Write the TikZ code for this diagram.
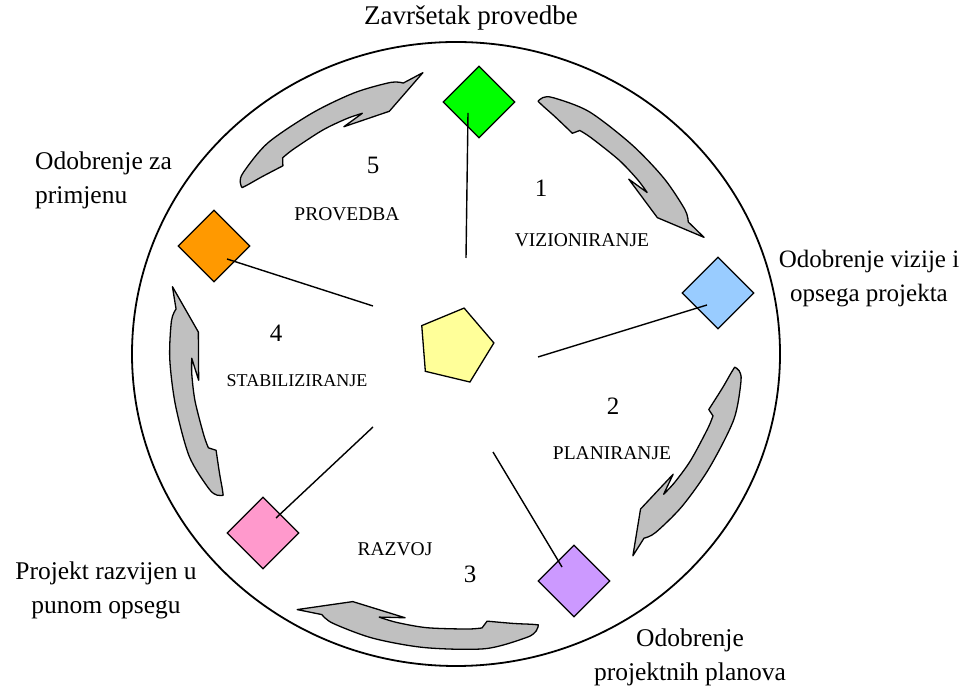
\documentclass[tikz,border=0pt]{standalone}
\usepackage{fontspec}
\setmainfont{Liberation Serif}
\usetikzlibrary{shapes.geometric,calc}
\definecolor{msgreen}{HTML}{00FF00}
\definecolor{msblue}{HTML}{99CCFF}
\definecolor{mspurple}{HTML}{CC99FF}
\definecolor{mspink}{HTML}{FF99CC}
\definecolor{msorange}{HTML}{FF9900}
\definecolor{pentyellow}{HTML}{FFFF99}
\definecolor{arrowgray}{HTML}{C0C0C0}
\newcommand{\cycarrow}[4]{%
  \begin{scope}[shift={(455,336)}]
    \foreach \nm/\aT/\aD in {o1/0/10, o2/0.015/15, o3/0.06/18.5, o4/0.23/21, o5/0.47/18, o6/0.68/17, o7/0.85/15.5, o8/0.905/12, tp/1/19, hi/0.81/-12, bb/0.57/-9.5, n1/0.68/-5, n2/0.6/-3.5, n3/0.47/-2, n4/0.3/-0.5, n5/0.235/0, sh/0.21/-6, l1/0.1/1.5, l2/0.03/7}{
      \coordinate (\nm) at ({#1-(#2)*\aT}:{#3+(#4)*(\aT-0.45)+(\aD)});
    }
    \filldraw[cyclearrow] plot[smooth] coordinates {(o1)(o2)(o3)(o4)(o5)(o6)(o7)(o8)} -- (tp) -- (hi) -- (bb)
      -- plot[smooth] coordinates {(n1)(n2)(n3)(n4)(n5)} -- (sh)
      -- plot[smooth] coordinates {(sh)(l1)(l2)(o1)} -- cycle;
  \end{scope}}
\begin{document}
\begin{tikzpicture}[x=1pt,y=1pt,
  outerlabel/.style={font=\fontsize{25.5}{34}\selectfont, inner sep=0pt, align=center},
  phaselabel/.style={font=\fontsize{19.5}{22}\selectfont, inner sep=0pt},
  numlabel/.style={font=\fontsize{25}{30}\selectfont, inner sep=0pt},
  milestone/.style={diamond, aspect=1, draw=black, line width=1.3pt, minimum width=72pt, minimum height=72pt, inner sep=0pt},
  conn/.style={draw=black, line width=1.4pt},
  cyclearrow/.style={fill=arrowgray, draw=black, line width=1.3pt, line join=round}]
\useasboundingbox (0,0) rectangle (976,690);

% outer circle
\draw[line width=1.8pt] (456,336) ellipse [x radius=324, y radius=312];

% arrows
\cycarrow{71.8}{46.7}{256}{0}
\cycarrow{-2.7}{45.9}{261}{-20}
\cycarrow{-72.9}{48.8}{277}{8}
\cycarrow{-148.65}{44.75}{266}{10}
\cycarrow{142.0}{45.5}{262}{4}

% center pentagon
\node[regular polygon, regular polygon sides=5, shape border rotate=-13.5, minimum size=78pt, inner sep=0pt, fill=pentyellow, draw=black, line width=1.3pt] (core) at (455,344) {};

% milestones
\node[milestone, fill=msgreen]  (m5) at (479,588) {};
\node[milestone, fill=msblue]   (m1) at (718,397) {};
\node[milestone, fill=mspurple] (m2) at (574,109) {};
\node[milestone, fill=mspink]   (m3) at (263,157) {};
\node[milestone, fill=msorange] (m4) at (214,444) {};

% connectors
\coordinate (c5a) at (468,577); \coordinate (c5b) at (466,432);
\coordinate (c1a) at (707,385); \coordinate (c1b) at (538,333);
\coordinate (c2a) at (562,123); \coordinate (c2b) at (493,238);
\coordinate (c3a) at (276,172); \coordinate (c3b) at (373,263);
\coordinate (c4a) at (227,431); \coordinate (c4b) at (373,384);
\draw[conn] (c5a) -- (c5b);
\draw[conn] (c1a) -- (c1b);
\draw[conn] (c2a) -- (c2b);
\draw[conn] (c3a) -- (c3b);
\draw[conn] (c4a) -- (c4b);

% outer labels
\node[outerlabel, font=\fontsize{27}{34}\selectfont] (t5) at (471,672) {Završetak provedbe};
\node[outerlabel, align=left, anchor=west] (t4) at (35,510) {Odobrenje za\\primjenu};
\node[outerlabel, font=\fontsize{25}{34}\selectfont] (t1) at (869,411) {Odobrenje vizije i\\opsega projekta};
\node[outerlabel] (t2) at (690,33) {Odobrenje\\projektnih planova};
\node[outerlabel] (t3) at (106,100) {Projekt razvijen u\\punom opsegu};

% phase labels
\node[numlabel] (n1) at (541,502) {1};
\node[phaselabel] (p1) at (582,450) {VIZIONIRANJE};
\node[numlabel] (n2) at (613,284) {2};
\node[phaselabel] (p2) at (612,237) {PLANIRANJE};
\node[phaselabel] (p3) at (395,141) {RAZVOJ};
\node[numlabel] (n3) at (470,116) {3};
\node[numlabel] (n4) at (276,357) {4};
\node[phaselabel, font=\fontsize{18}{22}\selectfont] (p4) at (297,309) {STABILIZIRANJE};
\node[numlabel] (n5) at (373,525) {5};
\node[phaselabel] (p5) at (347,476) {PROVEDBA};
\end{tikzpicture}
\end{document}
